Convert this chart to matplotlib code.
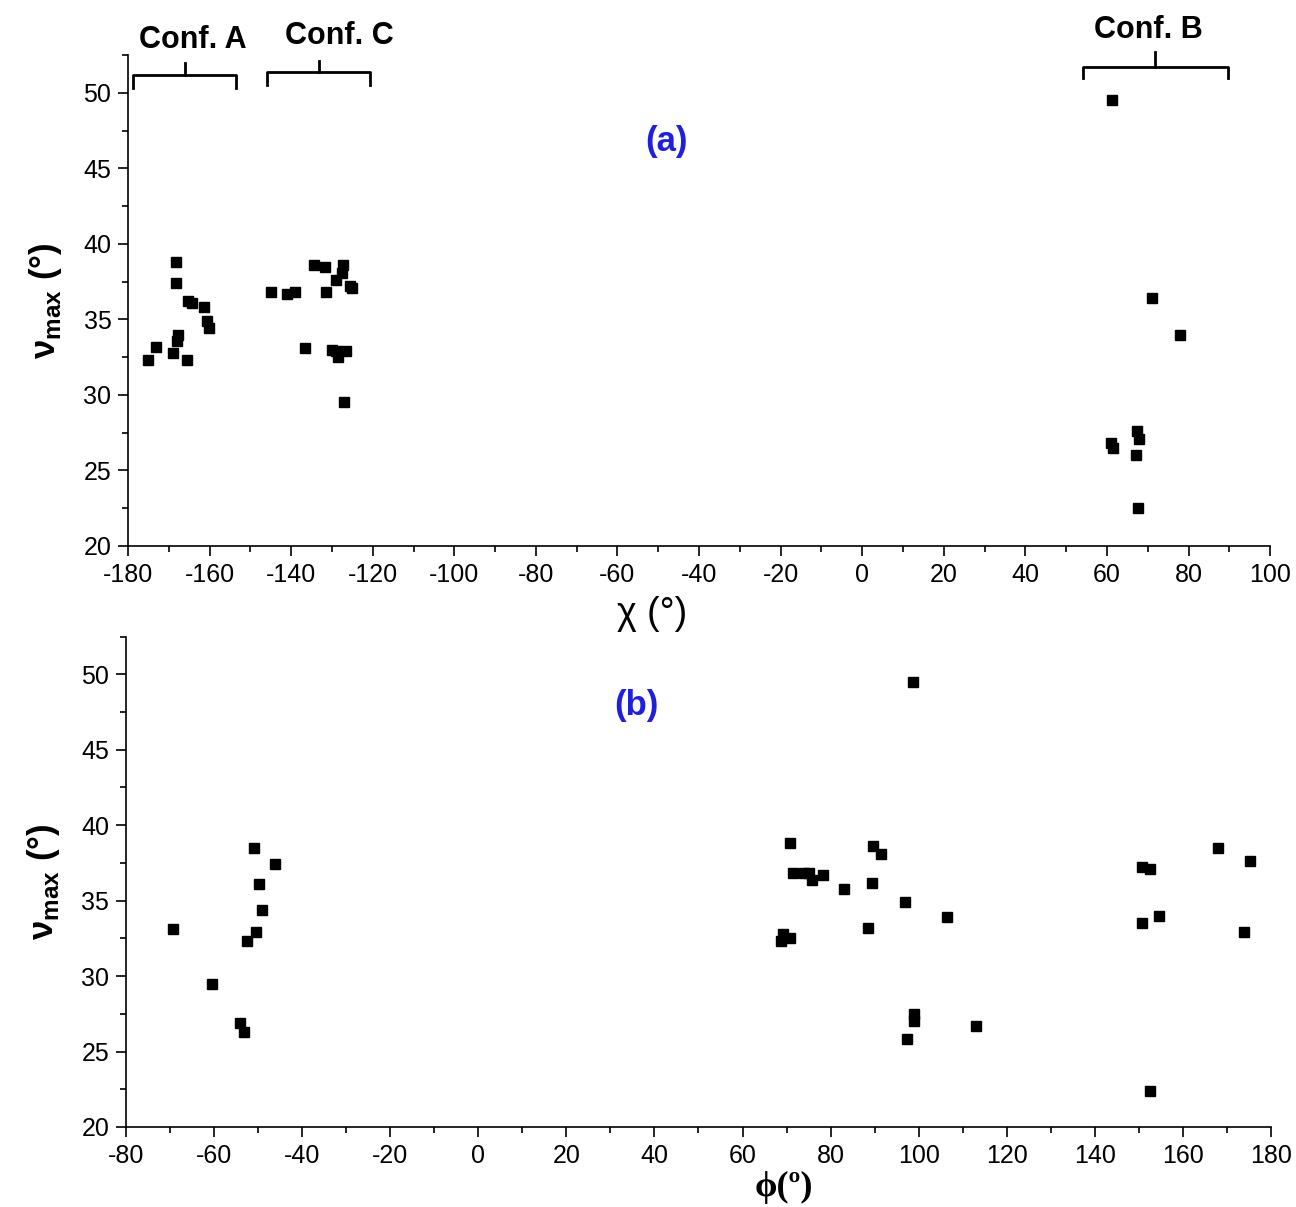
import matplotlib
matplotlib.use("Agg")
import matplotlib.pyplot as plt
from matplotlib.ticker import MultipleLocator

plt.rcParams['font.family'] = ['Liberation Sans', 'DejaVu Sans']
plt.rcParams['mathtext.fontset'] = 'custom'
plt.rcParams['mathtext.rm'] = 'Liberation Sans'
plt.rcParams['mathtext.bf'] = 'Liberation Sans:bold'
plt.rcParams['axes.unicode_minus'] = False

# Panel (a): chi vs nu_max
chi_a = [-168.3, -168.3, -165.2, -164.2, -161.5, -160.7, -160.1, -167.7, -167.9,
         -173.1, -168.9, -175.1, -165.6,
         -144.9, -141.1, -139.1, -134.5, -131.7, -131.5, -127.2, -127.5, -128.9,
         -125.6, -125.2, -136.6, -130.0, -129.0, -128.6, -126.6, -127.0,
         61.2, 71.1, 78.0, 67.4, 67.8, 61.0, 61.5, 67.2, 67.7]
nu_a = [38.8, 37.4, 36.2, 36.1, 35.8, 34.9, 34.4, 34.0, 33.6,
        33.2, 32.8, 32.3, 32.3,
        36.8, 36.7, 36.8, 38.6, 38.5, 36.8, 38.6, 38.1, 37.6,
        37.2, 37.1, 33.1, 33.0, 32.9, 32.5, 32.9, 29.5,
        49.5, 36.4, 34.0, 27.6, 27.1, 26.8, 26.5, 26.0, 22.5]

# Panel (b): phi vs nu_max
phi_b = [-50.9, -46.2, -49.8, -49.0, -50.4, -52.5, -69.3, -60.5, -54.2, -53.3,
         70.8, 89.7, 91.5, 71.4, 74.0, 75.1, 75.8, 78.2, 83.1, 89.5,
         96.8, 106.5, 88.4, 69.2, 70.8, 68.8, 98.9, 98.9, 97.3, 113.0, 98.7,
         168.0, 175.2, 150.6, 152.6, 154.5, 150.6, 173.8, 152.5]
nu_b = [38.5, 37.4, 36.1, 34.4, 32.9, 32.3, 33.1, 29.5, 26.9, 26.3,
        38.8, 38.6, 38.1, 36.8, 36.8, 36.8, 36.4, 36.7, 35.8, 36.2,
        34.9, 33.9, 33.2, 32.8, 32.5, 32.3, 27.5, 27.0, 25.8, 26.7, 49.5,
        38.5, 37.6, 37.2, 37.1, 34.0, 33.5, 32.9, 22.4]

# conformer brackets: label, x range, bar height, end height, tick top
conf_names = ['Conf. A', 'Conf. C', 'Conf. B']
conf_x0 = [-178.8, -145.9, 54.1]
conf_x1 = [-153.5, -120.7, 89.7]
conf_bar = [51.2, 51.4, 51.7]
conf_end = [50.3, 50.5, 51.0]
conf_top = [52.0, 52.1, 52.7]
conf_label_x = [-164.0, -128.3, 70.1]
conf_label_y = [53.5, 53.75, 54.15]

fig = plt.figure(figsize=(12.96, 12.07), dpi=100)
ax1 = fig.add_axes([0.0988, 0.5477, 0.8812, 0.4066])
ax2 = fig.add_axes([0.0972, 0.0663, 0.8835, 0.4063])


def style(ax, xmin, xmax):
    ax.set_xlim(xmin, xmax)
    ax.set_ylim(20, 52.5)
    ax.spines['top'].set_visible(False)
    ax.spines['right'].set_visible(False)
    ax.spines['left'].set_linewidth(1.2)
    ax.spines['bottom'].set_linewidth(1.2)
    ax.xaxis.set_major_locator(MultipleLocator(20))
    ax.xaxis.set_minor_locator(MultipleLocator(10))
    ax.yaxis.set_major_locator(MultipleLocator(5))
    ax.yaxis.set_minor_locator(MultipleLocator(2.5))
    ax.tick_params(which='major', direction='out', length=7, width=1.2, labelsize=18, pad=5)
    ax.tick_params(which='minor', direction='out', length=4, width=1.2)


style(ax1, -180, 100)
style(ax2, -80, 180)

ax1.plot(chi_a, nu_a, 's', color='black', ms=7, clip_on=False)
ax2.plot(phi_b, nu_b, 's', color='black', ms=7, clip_on=False)

for name, x0, x1, yb, ye, yt, xl, yl in zip(conf_names, conf_x0, conf_x1, conf_bar,
                                            conf_end, conf_top, conf_label_x, conf_label_y):
    xc = (x0 + x1) / 2
    ax1.plot([x0, x0, x1, x1], [ye, yb, yb, ye], color='black', lw=2, clip_on=False)
    ax1.plot([xc, xc], [yb, yt], color='black', lw=2, clip_on=False)
    ax1.text(xl, yl, name, ha='center', va='center', fontsize=22, fontweight='bold')

ax1.text(-48, 46.8, '(a)', color='#1f1fdc', fontsize=25, fontweight='bold',
         ha='center', va='center')
ax2.text(36, 47.9, '(b)', color='#1f1fdc', fontsize=25, fontweight='bold',
         ha='center', va='center')

ylab = r'ν$_{\mathbf{max}}$ (°)'
ax1.set_ylabel(ylab, fontsize=25, fontweight='bold', labelpad=14)
ax2.set_ylabel(ylab, fontsize=25, fontweight='bold', labelpad=14)
ax1.set_xlabel('χ (°)', fontsize=27)
ax1.xaxis.set_label_coords(0.459, -0.102)
ax2.set_xlabel('ϕ(º)', fontsize=26, fontweight='bold',
               family=['Liberation Serif', 'DejaVu Serif'])
ax2.xaxis.set_label_coords(0.575, -0.09)

fig.savefig('out.png', dpi=100)
